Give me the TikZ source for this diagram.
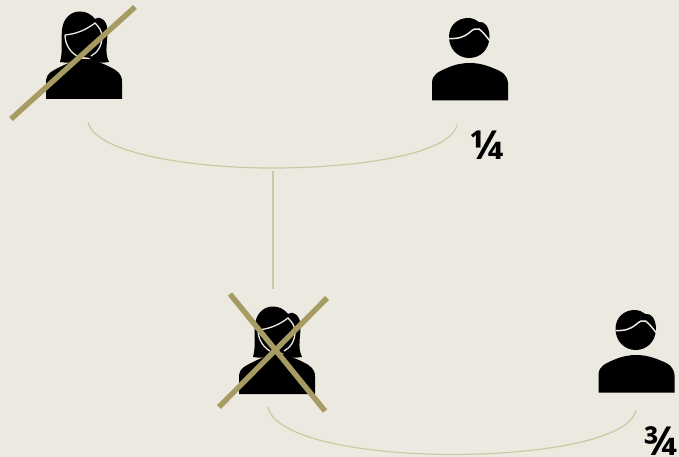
\documentclass[tikz,border=0pt]{standalone}
\usepackage{fontspec}
\setmainfont{Open Sans}
\definecolor{bgc}{HTML}{ECE9E0}
\definecolor{slash}{HTML}{A59B63}
\definecolor{link}{HTML}{CBC9A2}
\tikzset{
  strike/.style={draw=slash,line width=5.4pt},
  linkline/.style={draw=link,line width=1.2pt},
  stemline/.style={draw=link,line width=2pt},
  frac/.style={inner sep=0pt,font=\bfseries\fontsize{40}{40}\selectfont},
  female/.pic={
    % body
    \fill[black] (46,99) -- (46,80) .. controls (47,73) and (52,71) .. (60,67)
      .. controls (68,63) and (76,60) .. (84,59)
      .. controls (94,60) and (102,63) .. (110,67)
      .. controls (118,71) and (122,74) .. (122,82) -- (122,99) -- cycle;
    % hair
    \fill[black] (60,62) .. controls (63,52) and (61,40) .. (62,30)
      .. controls (63,18) and (71,11.5) .. (80,11.5)
      .. controls (86,11.5) and (91,14) .. (95,19)
      .. controls (102,15) and (107,22) .. (107.5,30)
      .. controls (108,40) and (104,52) .. (109,62)
      .. controls (103,63) and (96,63) .. (91,61)
      -- (78,61) .. controls (72,63) and (66,63) .. (60,62) -- cycle;
    % face outline
    \draw[bgc,line width=1.3pt] (65,35) .. controls (76,34) and (86,30) .. (95,23)
      .. controls (99,27) and (102,31) .. (102,37)
      .. controls (102,46) and (97,53) .. (91,56);
    \draw[bgc,line width=1.3pt] (65,35) .. controls (65,44) and (70,52) .. (77,56);
    \fill[bgc] (77,59.5) .. controls (81,56.5) and (87,56.5) .. (91,59) .. controls (88,59.5) and (82,58) .. (77,59.5) -- cycle;
  },
  male/.pic={
    \fill[black] (432,100.5) -- (432,82) .. controls (433,74) and (438,72) .. (447,68)
      .. controls (455,64.5) and (462,63) .. (470,63)
      .. controls (478,63) and (486,65) .. (494,68.5)
      .. controls (503,72) and (507,75) .. (508,83) -- (508,100.5) -- cycle;
    \fill[black] (449,37) .. controls (449,25) and (458,18) .. (468,18)
      .. controls (473,18) and (476,20) .. (479,22)
      .. controls (485,21) and (489,27) .. (489.5,36)
      .. controls (489.5,50) and (480,58) .. (469,58)
      .. controls (458,58) and (449,49) .. (449,37) -- cycle;
    \draw[bgc,line width=1.5pt] (449,38.5) .. controls (458,39) and (464,37) .. (469,33)
      .. controls (473,29) and (476,28) .. (479,29)
      .. controls (483,32) and (486,36) .. (489.5,40.5);
  }
}
\begin{document}
\begin{tikzpicture}[x=1pt,y=-1pt]
\fill[bgc] (0,0) rectangle (679,457);
\useasboundingbox (0,0) rectangle (679,457);
% anchors
\coordinate (c1l) at (88,122);
\coordinate (c1m) at (272,168);
\coordinate (c1r) at (457,125);
\coordinate (v1) at (273,171);
\coordinate (v2) at (273,289);
\coordinate (c2l) at (268,407);
\coordinate (c2m) at (452,454.5);
\coordinate (c2r) at (636,410);
% people
\pic at (0,0) {female};
\pic at (193,295) {female};
\pic at (0,0) {male};
\pic at (166.5,292) {male};
% connectors
\draw[linkline] (c1l) .. controls (95,153) and (190,168) .. (c1m) .. controls (355,168) and (450,155) .. (c1r);
\draw[stemline] (v1) -- (v2);
\draw[linkline] (c2l) .. controls (275,440) and (370,454.5) .. (c2m) .. controls (535,454.5) and (630,441) .. (c2r);
% strikes
\coordinate (s1a) at (11,119);
\coordinate (s1b) at (135,7);
\coordinate (s2a) at (219,407);
\coordinate (s2b) at (327,298);
\coordinate (s3a) at (230,294);
\coordinate (s3b) at (325,411);
\draw[strike] (s1a) -- (s1b);
\draw[strike] (s2a) -- (s2b);
\draw[strike] (s3a) -- (s3b);
% labels
\node[frac,anchor=center] (q1) at (488.5,145) {¼};
\node[frac,anchor=south east] (q2) at (678.5,456) {¾};
\end{tikzpicture}
\end{document}
